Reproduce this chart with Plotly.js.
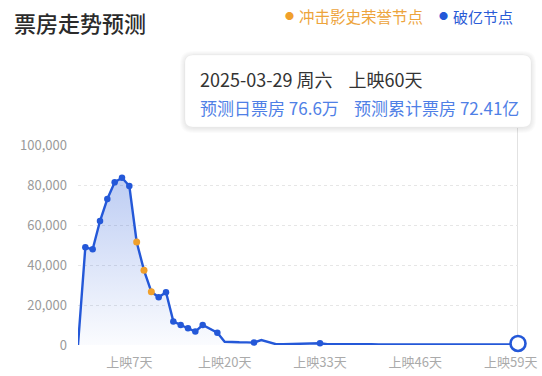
<!DOCTYPE html>
<html>
<head>
<meta charset="utf-8">
<script src="https://cdn.plot.ly/plotly-3.0.1.min.js"></script>
<style>
  html, body { margin: 0; padding: 0; background: #ffffff; }
  #chart { width: 542px; height: 376px; }
</style>
</head>
<body>
<div id="chart"></div>
<script>
// ---- data (daily box office, 万) ----
const days = [];
for (let d = 0; d <= 60; d++) days.push(d);
const dailyBoxOffice = [
  0, 48850, 47850, 62000, 73000, 81350, 83650, 79500, 51500, 37350,
  26650, 23850, 26350, 11800, 10000, 8350, 6700, 10000, 7900, 6150,
  1650, 1350, 1350, 1300, 1200, 2500, 1500, 400, 400, 450,
  500, 600, 750, 850, 400, 300, 300, 350, 450, 550,
  400, 300, 300, 250, 250, 250, 250, 250, 250, 250,
  250, 250, 250, 250, 250, 250, 250, 250, 250, 250,
  766
];
const blueNodeDays = [1, 2, 3, 4, 5, 6, 7, 11, 12, 13, 14, 15, 16, 17, 19, 24, 33];
const honorNodeDays = [8, 9, 10];
const lastDay = 60;
const tickDays = [7, 20, 33, 46, 59];
const tickLabels = ["上映7天", "上映20天", "上映33天", "上映46天", "上映59天"];
const yTicks = [0, 20000, 40000, 60000, 80000, 100000];
const yTickLabels = ["0", "20,000", "40,000", "60,000", "80,000", "100,000"];

const chartTitle = "票房走势预测";
const legendHonor = "冲击影史荣誉节点";
const legendBlue = "破亿节点";
const tipLine1 = "2025-03-29 周六&nbsp;&nbsp;&nbsp;&nbsp;上映60天";
const tipLine2 = "预测日票房 76.6万&nbsp;&nbsp;&nbsp;&nbsp;预测累计票房 72.41亿";

// ---- layout geometry ----
const W = 542, H = 376;
const L = 78, R = 24, T = 145, B = 31;
const PW = W - L - R, PH = H - T - B;
const px = x => (x - L) / PW;
const py = y => (H - B - y) / PH;

const FONT = '"Noto Sans CJK SC", "Noto Sans", sans-serif';
const BLUE = '#2458d8';
const ORANGE = '#f0a02c';

const traces = [
  {
    x: days, y: dailyBoxOffice, type: 'scatter', mode: 'lines',
    line: { color: BLUE, width: 2.4 },
    fill: 'tozeroy',
    fillgradient: {
      type: 'vertical',
      colorscale: [[0, 'rgba(36,88,216,0.02)'], [1, 'rgba(36,88,216,0.30)']]
    },
    hoverinfo: 'skip', cliponaxis: false
  },
  {
    x: blueNodeDays, y: blueNodeDays.map(d => dailyBoxOffice[d]),
    type: 'scatter', mode: 'markers',
    marker: { color: BLUE, size: 6.5 }, cliponaxis: false, hoverinfo: 'skip'
  },
  {
    x: honorNodeDays, y: honorNodeDays.map(d => dailyBoxOffice[d]),
    type: 'scatter', mode: 'markers',
    marker: { color: ORANGE, size: 7 }, cliponaxis: false, hoverinfo: 'skip'
  },
  {
    x: [lastDay], y: [dailyBoxOffice[lastDay]],
    type: 'scatter', mode: 'markers',
    marker: { color: '#ffffff', size: 15, line: { color: BLUE, width: 2.6 } },
    cliponaxis: false, hoverinfo: 'skip'
  }
];

// rounded tooltip box path in paper coords
function roundRect(x0, y0, x1, y1, r) {
  const ax = r / PW, ay = r / PH;
  const X0 = px(x0), X1 = px(x1), Y0 = py(y1), Y1 = py(y0);
  return `M${X0 + ax},${Y1} L${X1 - ax},${Y1} Q${X1},${Y1} ${X1},${Y1 - ay} ` +
    `L${X1},${Y0 + ay} Q${X1},${Y0} ${X1 - ax},${Y0} L${X0 + ax},${Y0} ` +
    `Q${X0},${Y0} ${X0},${Y0 + ay} L${X0},${Y1 - ay} Q${X0},${Y1} ${X0 + ax},${Y1} Z`;
}

const shapes = [];
// soft shadow
for (let i = 5; i >= 1; i--) {
  shapes.push({
    type: 'path', xref: 'paper', yref: 'paper',
    path: roundRect(185 - i, 55 - i + 1, 531 + i, 127 + i + 1, 8 + i),
    fillcolor: 'rgba(0,0,0,0.014)', line: { width: 0 }
  });
}
shapes.push({
  type: 'path', xref: 'paper', yref: 'paper',
  path: roundRect(185, 55, 531, 127, 8),
  fillcolor: '#ffffff', line: { color: 'rgba(0,0,0,0.025)', width: 1 }
});
// hover vertical line
shapes.push({
  type: 'line', xref: 'x', yref: 'paper', x0: lastDay, x1: lastDay,
  y0: py(338), y1: py(128),
  line: { color: '#cfcfcf', width: 1.2 }, layer: 'below'
});

const annotations = [
  { text: chartTitle, x: px(12), y: py(22), xref: 'paper', yref: 'paper',
    xanchor: 'left', yanchor: 'middle', showarrow: false,
    font: { family: FONT, size: 22, color: '#2b2b2b', weight: 500 } },
  { text: '●', x: px(289), y: py(15.5), xref: 'paper', yref: 'paper',
    xanchor: 'center', yanchor: 'middle', showarrow: false,
    font: { family: FONT, size: 9, color: ORANGE } },
  { text: legendHonor, x: px(297), y: py(16), xref: 'paper', yref: 'paper',
    xanchor: 'left', yanchor: 'middle', showarrow: false,
    font: { family: FONT, size: 15.5, color: '#eda43c' } },
  { text: '●', x: px(443), y: py(15.5), xref: 'paper', yref: 'paper',
    xanchor: 'center', yanchor: 'middle', showarrow: false,
    font: { family: FONT, size: 9, color: BLUE } },
  { text: legendBlue, x: px(451), y: py(16), xref: 'paper', yref: 'paper',
    xanchor: 'left', yanchor: 'middle', showarrow: false,
    font: { family: FONT, size: 15, color: '#2a5bd6' } },
  { text: tipLine1, x: px(198), y: py(79), xref: 'paper', yref: 'paper',
    xanchor: 'left', yanchor: 'middle', showarrow: false,
    font: { family: FONT, size: 18, color: '#333333' } },
  { text: tipLine2, x: px(198), y: py(107), xref: 'paper', yref: 'paper',
    xanchor: 'left', yanchor: 'middle', showarrow: false,
    font: { family: FONT, size: 17, color: '#4f80e6' } }
];

const layout = {
  width: W, height: H,
  margin: { l: L, r: R, t: T, b: B, pad: 0 },
  paper_bgcolor: '#ffffff', plot_bgcolor: '#ffffff',
  showlegend: false,
  font: { family: FONT },
  xaxis: {
    range: [0, 60], tickvals: tickDays, ticktext: tickLabels,
    showgrid: false, zeroline: false, showline: false, ticks: '',
    tickfont: { family: FONT, size: 13, color: '#aaaaaa' },
    ticklabelstandoff: 8, fixedrange: true
  },
  yaxis: {
    range: [0, 100000], tickvals: yTicks, ticktext: yTickLabels,
    showgrid: true, gridcolor: '#e6e6e6', griddash: 'dot', gridwidth: 1,
    zeroline: false, showline: false, ticks: '',
    tickfont: { family: FONT, size: 13, color: '#9a9a9a' },
    ticklabelstandoff: 10, fixedrange: true
  },
  shapes: shapes,
  annotations: annotations
};

Plotly.newPlot('chart', traces, layout, { displayModeBar: false, staticPlot: true });
</script>
</body>
</html>
